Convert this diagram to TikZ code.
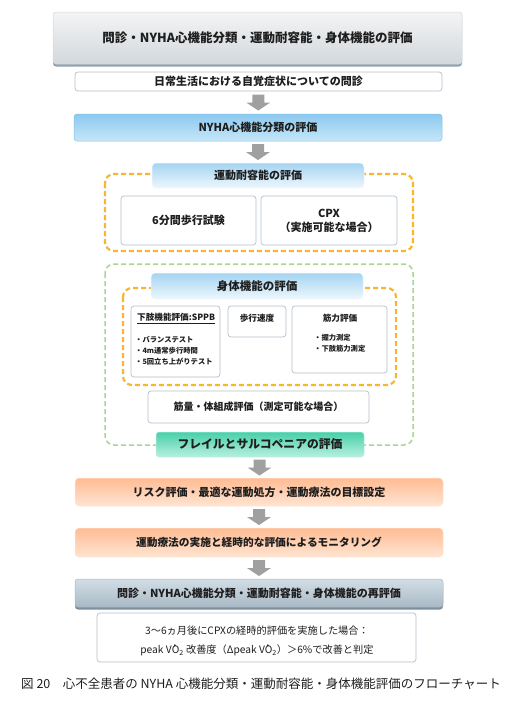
\documentclass[tikz,border=0pt]{standalone}
\usepackage{fontspec}
\setmainfont{Noto Sans CJK JP}
\usetikzlibrary{calc,shadows}
\definecolor{txt}{HTML}{1E1E1E}
\definecolor{hdrT}{HTML}{F3F4F5}
\definecolor{hdrB}{HTML}{D3D8DC}
\definecolor{hdrS}{HTML}{8FA2B0}
\definecolor{bord}{HTML}{B4C0CA}
\definecolor{blueT}{HTML}{8CCAF0}
\definecolor{blueB}{HTML}{C6E6F8}
\definecolor{blueL}{HTML}{86C2EA}
\definecolor{ttlT}{HTML}{A4D4F2}
\definecolor{ttlB}{HTML}{EEF7FD}
\definecolor{arr}{HTML}{A0A0A0}
\definecolor{orn}{HTML}{F8B72A}
\definecolor{grn}{HTML}{A6D88E}
\definecolor{tealT}{HTML}{48D0A9}
\definecolor{tealB}{HTML}{B8F0DF}
\definecolor{peachT}{HTML}{FFBC93}
\definecolor{peachB}{HTML}{FFE4D2}
\definecolor{gbT}{HTML}{D3DEE6}
\definecolor{gbB}{HTML}{A8B9C5}
\definecolor{gbS}{HTML}{7C8E9B}
\newcommand\blkarrow[2]{%
  \coordinate (m#1#2) at ($(#1.south)!0.5!(#2.north)$);
  \fill[arr] ([shift={(-6,-8)}]m#1#2) -- ([shift={(6,-8)}]m#1#2) -- ([shift={(6,0)}]m#1#2)
    -- ([shift={(12,0)}]m#1#2) -- ([shift={(0,8)}]m#1#2) -- ([shift={(-12,0)}]m#1#2)
    -- ([shift={(-6,0)}]m#1#2) -- cycle;}
\begin{document}
\begin{tikzpicture}[x=1pt,y=-1pt,
  every node/.style={text=txt, inner sep=0pt, align=center},
  bx/.style={rounded corners=3pt, draw=bord, line width=0.7pt, fill=white},
  hdr/.style={rounded corners=3pt, draw=hdrB, line width=0.5pt, top color=hdrT, bottom color=hdrB,
     drop shadow={shadow xshift=0pt, shadow yshift=-2.5pt, fill=hdrS, opacity=1}},
  gbx/.style={rounded corners=3pt, draw=gbB, line width=0.5pt, top color=gbT, bottom color=gbB,
     drop shadow={shadow xshift=0pt, shadow yshift=-2.5pt, fill=gbS, opacity=1}},
  bluebx/.style={rounded corners=3pt, draw=blueL, line width=0.5pt, top color=blueT, bottom color=blueB},
  ttlbx/.style={rounded corners=4pt, draw=ttlB, line width=0.5pt, top color=ttlT, bottom color=ttlB},
  tealbx/.style={rounded corners=3pt, draw=tealB, line width=0.5pt, top color=tealT, bottom color=tealB},
  peachbx/.style={rounded corners=4pt, draw=peachB, line width=0.5pt, top color=peachT, bottom color=peachB},
  oframe/.style={draw=orn, line width=2.2pt, dash pattern=on 5pt off 3pt, rounded corners=9pt},
  gframe/.style={draw=grn, line width=1.5pt, dash pattern=on 5pt off 3pt, rounded corners=9pt},
  fL/.style={font=\fontsize{12.5pt}{15pt}\selectfont\bfseries},
  fM/.style={font=\fontsize{11pt}{14pt}\selectfont\bfseries},
  fS/.style={font=\fontsize{8.6pt}{10pt}\selectfont\bfseries},
  fXS/.style={font=\fontsize{7.3pt}{8pt}\selectfont\bfseries},
]
\useasboundingbox (0,0) rectangle (528,705);

% header
\node[hdr, fL, minimum width=409pt, minimum height=52pt] (top) at (257.5,38)
  {問診・NYHA心機能分類・運動耐容能・身体機能の評価};
\node[bx, fM, minimum width=367pt, minimum height=19pt] (q) at (258.5,81.5)
  {日常生活における自覚症状についての問診};
\node[bluebx, fM, minimum width=368pt, minimum height=27pt] (nyha) at (258,127.5)
  {NYHA心機能分類の評価};

% exercise tolerance frame
\draw[oframe] (105,174) rectangle (413,251);
\node[ttlbx, fM, minimum width=212pt, minimum height=25pt] (t1) at (258,175.5) {運動耐容能の評価};
\node[bx, fM, minimum width=135pt, minimum height=49pt] (smw) at (188.5,220.5) {6分間歩行試験};
\node[bx, fM, minimum width=136pt, minimum height=49pt] (cpx) at (329,220.5) {CPX\\（実施可能な場合）};

% physical function frame
\draw[gframe] (105,264) rectangle (413,445);
\draw[oframe] (123,288) rectangle (396,385);
\node[ttlbx, fM, font=\fontsize{11.5pt}{14pt}\selectfont\bfseries, minimum width=212pt, minimum height=26pt] (t2) at (257,286) {身体機能の評価};
\node[bx, minimum width=89pt, minimum height=71pt] (sppb) at (175.5,341.5) {};
\node[fS, anchor=west] (sppbt) at (137,318.5) {\underline{下肢機能評価:SPPB}};
\node[fXS, anchor=west] (s1) at (135,340) {・バランステスト};
\node[fXS, anchor=west] (s2) at (135,351) {・4m通常歩行時間};
\node[fXS, anchor=west] (s3) at (135,362) {・5回立ち上がりテスト};
\node[bx, minimum width=58pt, minimum height=31pt] (gait) at (257,321.5) {};
\node[fS] (gaitt) at (257,318.5) {歩行速度};
\node[bx, minimum width=95pt, minimum height=67pt] (musc) at (339.5,339.5) {};
\node[fS] (musct) at (340,318.5) {筋力評価};
\node[fXS, anchor=west] (m1) at (314,338) {・握力測定};
\node[fXS, anchor=west] (m2) at (314,349) {・下肢筋力測定};
\node[bx, font=\fontsize{10pt}{12pt}\selectfont\bfseries, minimum width=221pt, minimum height=32pt] (mass) at (258.5,407)
  {筋量・体組成評価（測定可能な場合）};
\node[tealbx, font=\fontsize{11.8pt}{14pt}\selectfont\bfseries, minimum width=208pt, minimum height=25pt] (frail) at (260,444.5)
  {フレイルとサルコペニアの評価};

% lower flow
\node[peachbx, fM, minimum width=368pt, minimum height=28pt] (risk) at (259,492)
  {リスク評価・最適な運動処方・運動療法の目標設定};
\node[peachbx, fM, font=\fontsize{10.7pt}{13pt}\selectfont\bfseries, minimum width=368pt, minimum height=29pt] (mon) at (259,542.5)
  {運動療法の実施と経時的な評価によるモニタリング};
\node[gbx, fM, minimum width=368pt, minimum height=28pt] (re) at (259,593)
  {問診・NYHA心機能分類・運動耐容能・身体機能の再評価};
\node[bx, minimum width=319pt, minimum height=49pt] (note) at (256.5,637.5) {};
\node[font=\fontsize{10.2pt}{18.5pt}\selectfont] (notet) at (257,641)
  {3〜6ヵ月後にCPXの経時的評価を実施した場合：\\
   peak \.{V}O\textsubscript{2} 改善度（Δpeak \.{V}O\textsubscript{2}）＞6\%で改善と判定};

% arrows
\blkarrow{q}{nyha}
\blkarrow{nyha}{t1}
\blkarrow{frail}{risk}
\blkarrow{risk}{mon}
\blkarrow{mon}{re}

% caption
\node[font=\fontsize{12.5pt}{15pt}\selectfont] (cap) at (261,684)
  {図 20　心不全患者の NYHA 心機能分類・運動耐容能・身体機能評価のフローチャート};
\end{tikzpicture}
\end{document}
